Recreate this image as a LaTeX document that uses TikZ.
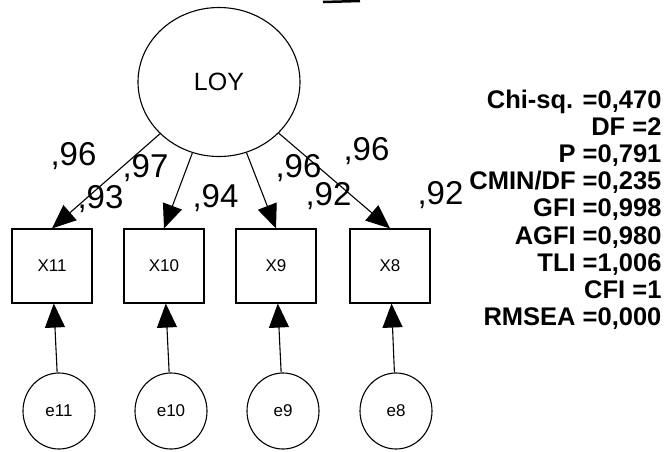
\documentclass[tikz,border=0pt]{standalone}
\usepackage{fontspec}
\setmainfont{Liberation Sans}
\usetikzlibrary{shapes.geometric,arrows.meta}
\begin{document}
\begin{tikzpicture}[x=1pt,y=-1pt,
  every path/.style={line width=1.1pt},
  obsbox/.style={draw,rectangle,minimum width=80pt,minimum height=74pt,inner sep=0pt,font=\fontsize{17}{17}\selectfont},
  errc/.style={draw,ellipse,minimum width=72pt,minimum height=76pt,inner sep=0pt,font=\fontsize{17}{17}\selectfont},
  latent/.style={draw,ellipse,minimum width=162pt,minimum height=149pt,inner sep=0pt,font=\fontsize{25}{25}\selectfont},
  arr/.style={-{Triangle[length=24pt,width=20pt]}},
  coef/.style={anchor=base west,inner sep=0pt,font=\fontsize{33}{33}\selectfont},
  fit/.style={anchor=base east,inner sep=0pt,font=\fontsize{25.5}{25.5}\selectfont\bfseries}
]
\useasboundingbox (0,0) rectangle (664,451);
\draw[line width=2.5pt] (323,2) -- (360,1);
\node[latent] (loy) at (219,82) {LOY};
\node[obsbox] (x11) at (52,266) {X11};
\node[obsbox] (x10) at (164,266) {X10};
\node[obsbox] (x9) at (276,266) {X9};
\node[obsbox] (x8) at (390,266) {X8};
\node[errc] (e11) at (59,411) {e11};
\node[errc] (e10) at (171,411) {e10};
\node[errc] (e9) at (283,411) {e9};
\node[errc] (e8) at (396,411) {e8};
\draw[arr] (loy) -- (x11.north);
\draw[arr] (loy) -- (x10.north);
\draw[arr] (loy) -- (x9.north);
\draw[arr] (loy) -- (x8.north);
\draw[arr] (e11) -- (x11);
\draw[arr] (e10) -- (x10);
\draw[arr] (e9) -- (x9);
\draw[arr] (e8) -- (x8);
\node[coef] (c1) at (50,165) {,96};
\node[coef] (c2) at (122,177) {,97};
\node[coef] (c3) at (77,208) {,93};
\node[coef] (c4) at (192,207) {,94};
\node[coef] (c5) at (275,177) {,96};
\node[coef] (c6) at (343,160) {,96};
\node[coef] (c7) at (305,205) {,92};
\node[coef] (c8) at (417,204) {,92};
\node[fit] (s1) at (662,108) {Chi-sq. =0,470};
\node[fit] (s2) at (662,135.2) {DF =2};
\node[fit] (s3) at (662,162.4) {P =0,791};
\node[fit] (s4) at (662,189.6) {CMIN/DF =0,235};
\node[fit] (s5) at (662,216.8) {GFI =0,998};
\node[fit] (s6) at (662,244) {AGFI =0,980};
\node[fit] (s7) at (662,271.2) {TLI =1,006};
\node[fit] (s8) at (662,298.4) {CFI =1};
\node[fit] (s9) at (662,325.6) {RMSEA =0,000};
\end{tikzpicture}
\end{document}
